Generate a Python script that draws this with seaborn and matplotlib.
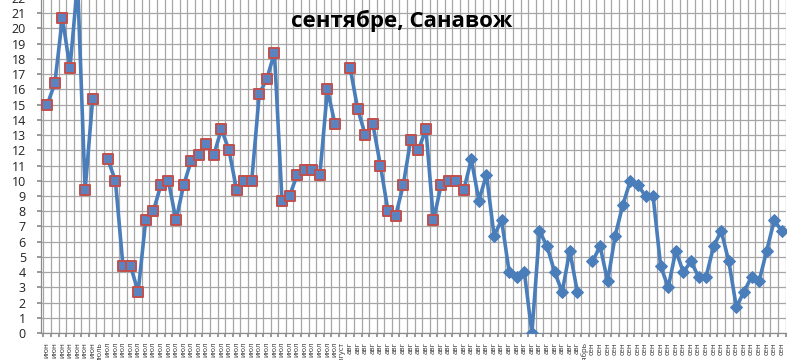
import matplotlib
matplotlib.use("Agg")
import numpy as np
import pandas as pd
import seaborn as sns
import matplotlib.pyplot as plt

# ---- data ----
temps = [
    15.0, 16.4, 20.7, 17.4, 23.0, 9.4, 15.4, None,
    11.4, 10.0, 4.4, 4.4, 2.7, 7.4, 8.0, 9.7, 10.0, 7.4, 9.7, 11.3,
    11.7, 12.4, 11.7, 13.4, 12.0, 9.4, 10.0, 10.0, 15.7, 16.7, 18.4, 8.7,
    9.0, 10.4, 10.7, 10.7, 10.4, 16.0, 13.7, None,
    17.4, 14.7, 13.0, 13.7, 11.0, 8.0, 7.7, 9.7, 12.7, 12.0, 13.4, 7.4,
    9.7, 10.0, 10.0, 9.4, 11.4, 8.7, 10.4, 6.4, 7.4, 4.0, 3.7, 4.0,
    0.0, 6.7, 5.7, 4.0, 2.7, 5.4, 2.7, None,
    4.7, 5.7, 3.4, 6.4, 8.4, 10.0, 9.7, 9.0, 9.0, 4.4, 3.0, 5.4,
    4.0, 4.7, 3.7, 3.7, 5.7, 6.7, 4.7, 1.7, 2.7, 3.7, 3.4, 5.4, 7.4, 6.7,
]
month_labels = (["июн"] * 7 + ["июль"] + ["июл"] * 31 + ["август"]
                + ["авг"] * 31 + ["сентябрь"] + ["сен"] * 26)
series_names = ["ряд 1"] * 56 + ["ряд 2"] * 42
title_text = "сентябре, Санавож"

df = pd.DataFrame({
    "pos": np.arange(len(temps)),
    "temp": pd.to_numeric(pd.Series(temps), errors="coerce"),
    "series": series_names,
})
df["seg"] = df["temp"].isna().cumsum()

sns.set_theme(style="white")
plt.rcParams["font.family"] = ["Open Sans", "DejaVu Sans"]

fig = plt.figure(figsize=(8, 3.6), dpi=100)
ax = fig.add_axes([0.0515, 0.075, 0.9305, 0.9305])
ax.set_axisbelow(True)

line_col = "#4a7ebb"
sns.lineplot(data=df.dropna(), x="pos", y="temp", units="seg", estimator=None,
             color=line_col, linewidth=2.6, ax=ax, legend=False, sort=False)
sq = df[df["series"] == "ряд 1"].dropna()
dm = df[df["series"] == "ряд 2"].dropna()
sns.scatterplot(data=sq, x="pos", y="temp", marker="s", s=50, color="#5a83bf",
                edgecolor="#c0504d", linewidth=1.4, ax=ax, zorder=3, legend=False)
sns.scatterplot(data=dm, x="pos", y="temp", marker="D", s=36, color=line_col,
                edgecolor=line_col, linewidth=0.8, ax=ax, zorder=3, legend=False)

n = len(temps)
ax.set_xlim(-0.8, n - 0.5)
ax.set_ylim(0, 22)
ax.set_yticks(range(0, 23))
ax.set_xticks(np.arange(-0.5, n, 1.0))
ax.set_xticks(np.arange(n), minor=True)
ax.set_xticklabels(month_labels, minor=True, rotation=90, fontsize=5.5)
ax.tick_params(axis="x", which="major", length=3, color="#8c8c8c",
               labelbottom=False, bottom=True)
ax.tick_params(axis="x", which="minor", length=0, pad=6.5, labelcolor="#333333")
ax.tick_params(axis="y", which="major", length=3, color="#8c8c8c", left=True,
               pad=8, labelsize=9, labelcolor="#222222")
ax.grid(True, which="major", color="#a6a6a6", linewidth=0.9)
ax.set_xlabel("")
ax.set_ylabel("")
for s in ["top", "right"]:
    ax.spines[s].set_visible(False)
for s in ["left", "bottom"]:
    ax.spines[s].set_color("#8c8c8c")
    ax.spines[s].set_linewidth(0.9)

fig.text(0.5025, 1 - 27 / 360, title_text, ha="center", va="baseline",
         fontsize=16, fontweight="bold", color="black")

fig.savefig("out.png", dpi=100)
